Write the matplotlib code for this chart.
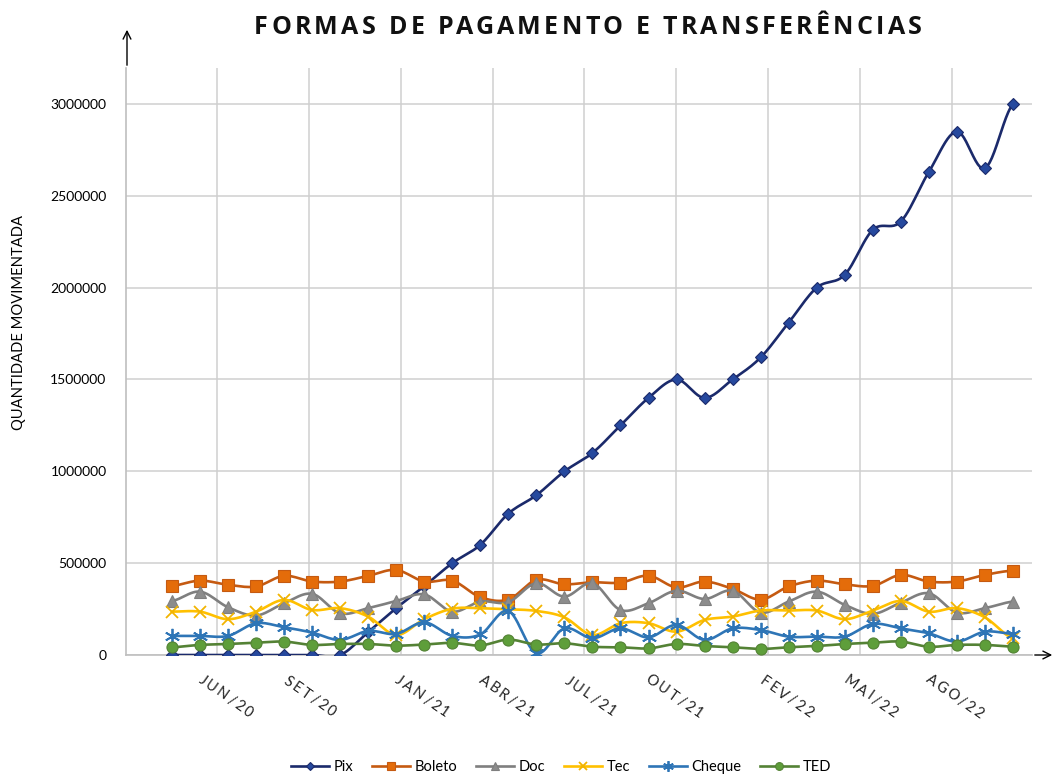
"""Formas de pagamento e transferências - quantidade movimentada por mês."""
import matplotlib
matplotlib.use('Agg')

import numpy as np
import matplotlib.pyplot as plt
from matplotlib.patches import FancyArrowPatch

# ── dados ────────────────────────────────────────────────────────────────────
MESES = [
    'ABR/20', 'MAI/20', 'JUN/20', 'JUL/20', 'AGO/20', 'SET/20', 'OUT/20', 'NOV/20',
    'DEZ/20', 'JAN/21', 'FEV/21', 'MAR/21', 'ABR/21', 'MAI/21', 'JUN/21', 'JUL/21',
    'AGO/21', 'SET/21', 'OUT/21', 'NOV/21', 'DEZ/21', 'JAN/22', 'FEV/22', 'MAR/22',
    'ABR/22', 'MAI/22', 'JUN/22', 'JUL/22', 'AGO/22', 'SET/22', 'OUT/22',
]
# rótulos que aparecem no eixo x (o gráfico original pula alguns)
ROTULOS_X = ['JUN/20', 'SET/20', 'JAN/21', 'ABR/21', 'JUL/21', 'OUT/21',
             'FEV/22', 'MAI/22', 'AGO/22']

PIX = [0, 0, 0, 0, 0, 0, 0, 125000, 255000, 375000, 500000, 600000, 770000,
       870000, 1000000, 1100000, 1250000, 1400000, 1500000, 1400000, 1500000,
       1620000, 1810000, 2000000, 2070000, 2315000, 2360000, 2630000, 2850000,
       2650000, 3000000]
BOLETO = [376000, 405000, 382000, 373000, 431000, 400000, 400000, 431000, 463000,
          400000, 405000, 315000, 302000, 409000, 385000, 396000, 394000, 432000,
          368000, 400000, 360000, 302000, 373000, 405000, 385000, 376000, 436000,
          400000, 400000, 436000, 460000]
DOC = [294000, 345000, 260000, 215000, 282000, 333000, 227000, 255000, 294000,
       330000, 236000, 291000, 288000, 391000, 318000, 391000, 245000, 282000,
       350000, 305000, 350000, 231000, 291000, 345000, 273000, 224000, 285000,
       336000, 231000, 255000, 291000]
TEC = [236000, 236000, 195000, 236000, 300000, 245000, 255000, 209000, 109000,
       195000, 252000, 255000, 249000, 240000, 205000, 109000, 173000, 173000,
       127000, 191000, 209000, 242000, 242000, 242000, 195000, 242000, 294000,
       236000, 255000, 205000, 90000]
CHEQUE = [104000, 104000, 104000, 173000, 151000, 122000, 82000, 131000, 115000,
          178000, 104000, 112000, 240000, 9000, 145000, 91000, 145000, 96000,
          164000, 82000, 145000, 136000, 100000, 100000, 100000, 169000, 145000,
          118000, 73000, 127000, 115000]
TED = [42000, 55000, 60000, 67000, 73000, 55000, 60000, 60000, 51000, 57000,
       66000, 52000, 84000, 57000, 64000, 45000, 42000, 36000, 60000, 49000,
       42000, 33000, 42000, 49000, 60000, 67000, 73000, 45000, 55000, 55000,
       45000]

SERIES = [
    # nome, valores, cor linha, marcador, cor marcador, tamanho
    ('Pix',    PIX,    '#1B2A6B', 'D',       '#26499E', 6.5),
    ('Boleto', BOLETO, '#C55A11', 's',       '#E46C0A', 8),
    ('Doc',    DOC,    '#7F7F7F', '^',       '#8C8C8C', 8.5),
    ('Tec',    TEC,    '#FFC000', 'x',       '#F2B400', 9),
    ('Cheque', CHEQUE, '#2E75B6', (6, 2, 0), '#2E75B6', 11),
    ('TED',    TED,    '#548235', 'o',       '#5E9E3A', 8),
]

FONTE = 'Lato'
N_SUB = 12   # pontos por segmento na suavização
W, H = 1056, 776


def suavizar(y, n=N_SUB):
    """Curva Catmull-Rom passando pelos pontos (parecido com 'linha suavizada' do Excel)."""
    y = np.asarray(y, dtype=float)
    p = np.concatenate([[y[0]], y, [y[-1]]])
    xs, ys = [], []
    t = np.linspace(0, 1, n, endpoint=False)
    for i in range(len(y) - 1):
        p0, p1, p2, p3 = p[i], p[i + 1], p[i + 2], p[i + 3]
        m1 = (p2 - p0) / 2
        m2 = (p3 - p1) / 2
        h00 = 2 * t**3 - 3 * t**2 + 1
        h10 = t**3 - 2 * t**2 + t
        h01 = -2 * t**3 + 3 * t**2
        h11 = t**3 - t**2
        xs.append(i + t)
        ys.append(h00 * p1 + h10 * m1 + h01 * p2 + h11 * m2)
    xs.append([len(y) - 1])
    ys.append([y[-1]])
    return np.concatenate(xs), np.concatenate(ys)


def texto_espacado(fig, cx, cy, s, espaco, cap, rotacao=0, **kw):
    """Escreve s letra a letra com espaçamento extra (px), centrado em (cx, cy) px de baixo."""
    r = fig.canvas.get_renderer()

    def largura(txt):
        t = fig.text(0, 0, txt + 'I', **kw)
        w = t.get_window_extent(r).width
        t.remove()
        return w

    wi = largura('')
    pref = [largura(s[:i]) - wi for i in range(len(s) + 1)]
    total = pref[-1] + espaco * (len(s) - 1)
    th = np.deg2rad(rotacao)
    u = np.array([np.cos(th), np.sin(th)])
    nrm = np.array([-np.sin(th), np.cos(th)])
    ini = np.array([cx, cy]) - u * total / 2 - nrm * cap / 2
    for i, ch in enumerate(s):
        if ch == ' ':
            continue
        px, py = ini + u * (pref[i] + espaco * i)
        fig.text(px / W, py / H, ch, rotation=rotacao, rotation_mode='anchor',
                 ha='left', va='baseline', **kw)


fig = plt.figure(figsize=(10.56, 7.76), dpi=100)
ax = fig.add_axes([126 / W, 1 - 655 / H, (1032 - 126) / W, (655 - 68) / H])

handles = []
for nome, vals, cor, mk, cor_mk, ms in SERIES:
    xs, ys = suavizar(vals)
    ln, = ax.plot(xs, ys, color=cor, lw=1.9, marker=mk, markevery=slice(0, None, N_SUB),
                  ms=ms, mfc=cor_mk, mec=cor if mk != 'x' else cor_mk,
                  mew=1.3 if mk in ('x', (6, 2, 0)) else 0.8, label=nome, zorder=3,
                  solid_joinstyle='round')
    handles.append(ln)

ax.set_xlim(-1.64, 30.68)
ax.set_ylim(0, 3196000)

# grade
ax.set_yticks(np.arange(0, 3000001, 500000))
ax.set_yticklabels([f'{v:d}' for v in range(0, 3000001, 500000)], fontsize=10, family=FONTE)
ax.set_xticks(np.linspace(1.6, 27.83, 9))
ax.set_xticklabels([])
ax.tick_params(length=0, pad=14)
ax.grid(True, color='#CFCFCF', lw=1.1, zorder=0)
ax.set_axisbelow(True)
for s in ['top', 'right']:
    ax.spines[s].set_visible(False)
for s in ['left', 'bottom']:
    ax.spines[s].set_color('#BFBFBF')
    ax.spines[s].set_linewidth(1.2)

ax.set_ylabel('QUANTIDADE MOVIMENTADA', fontsize=10.6, family=FONTE)
ax.yaxis.set_label_coords(-100 / 906, 0.567)

fig.canvas.draw()

# rótulos dos meses (rotacionados, com espaçamento entre letras)
for rot in ROTULOS_X:
    i = MESES.index(rot)
    px = ax.transData.transform((i, 0))[0]
    texto_espacado(fig, px - 2, H - 696, rot, 2.2, 10, rotacao=-35,
                   fontsize=10.5, family=FONTE, color='#222222')

texto_espacado(fig, 588, H - 25, 'FORMAS DE PAGAMENTO E TRANSFERÊNCIAS', 3.3, 18,
               fontsize=18, fontweight='bold', family='Open Sans', color='#111111')

# setas dos eixos
fig.add_artist(FancyArrowPatch(
    (127 / W, 1 - 68 / H), (127 / W, 1 - 27 / H), transform=fig.transFigure,
    arrowstyle='->', mutation_scale=14, color='black', lw=1))
fig.add_artist(FancyArrowPatch(
    (1032 / W, 1 - 655 / H), (1055 / W, 1 - 655 / H), transform=fig.transFigure,
    arrowstyle='->', mutation_scale=14, color='black', lw=1))

fig.legend(handles=handles, loc='center', bbox_to_anchor=(561 / W, 1 - 767 / H),
           ncol=6, frameon=False, prop={'family': FONTE, 'size': 10.5},
           handlelength=2.6, columnspacing=1.3, handletextpad=0.3, numpoints=1,
           markerscale=0.7)

fig.savefig('out.png', dpi=100)
